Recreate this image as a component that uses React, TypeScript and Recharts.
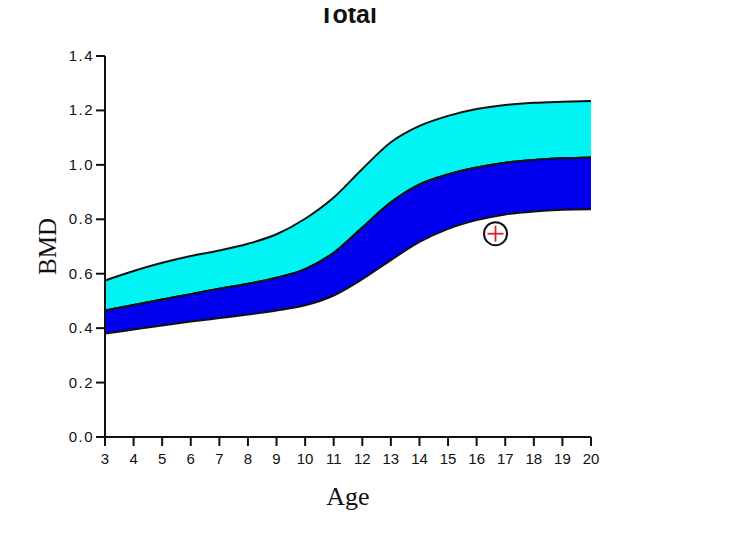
import React from "react";
import { ComposedChart, Area, Scatter, XAxis, YAxis, Label } from "recharts";

const ages = [3, 4, 5, 6, 7, 8, 9, 10, 11, 12, 13, 14, 15, 16, 17, 18, 19, 20];
const upper = [0.575, 0.61, 0.64, 0.665, 0.685, 0.71, 0.745, 0.802, 0.88, 0.985, 1.083, 1.143, 1.18, 1.205, 1.22, 1.228, 1.232, 1.235];
const middle = [0.465, 0.485, 0.505, 0.525, 0.545, 0.563, 0.585, 0.617, 0.677, 0.77, 0.862, 0.928, 0.965, 0.99, 1.008, 1.018, 1.024, 1.027];
const lower = [0.38, 0.395, 0.41, 0.424, 0.437, 0.45, 0.465, 0.484, 0.52, 0.58, 0.65, 0.717, 0.765, 0.797, 0.818, 0.829, 0.835, 0.837];
const yTicks = [0, 0.2, 0.4, 0.6, 0.8, 1.0, 1.2, 1.4];
const patient = [{ age: 16.66, bmd: 0.747 }];

const data = ages.map((a, i) => ({
  age: a,
  cyan: [middle[i], upper[i]],
  blue: [lower[i], middle[i]],
}));

const FONT = "Liberation Sans, Arial, sans-serif";

const XTick = (props: any) => {
  const { x, y, payload } = props;
  return (
    <text x={x} y={y + 12} textAnchor="middle" fontFamily={FONT} fontSize={15} fill="#111">
      {payload.value}
    </text>
  );
};

const YTick = (props: any) => {
  const { x, y, payload } = props;
  return (
    <text x={x} y={y + 5} textAnchor="end" fontFamily={FONT} fontSize={15} letterSpacing={1.5} fill="#111">
      {Number(payload.value).toFixed(1)}
    </text>
  );
};

const Marker = (props: any) => {
  const { cx, cy } = props;
  return (
    <g>
      <circle cx={cx} cy={cy} r={11.5} fill="#fff" stroke="#111" strokeWidth={2} />
      <line x1={cx - 8} y1={cy} x2={cx + 8} y2={cy} stroke="#e0202a" strokeWidth={1.8} />
      <line x1={cx} y1={cy - 8} x2={cx} y2={cy + 8} stroke="#e0202a" strokeWidth={1.8} />
    </g>
  );
};

export default function App() {
  return (
    <div style={{ margin: "-8px 0 0 -8px", width: 750, height: 540, background: "#fff" }}>
      <ComposedChart
        width={750}
        height={540}
        data={data}
        margin={{ top: 56, right: 159, bottom: 43, left: 0 }}
      >
        <text x={348} y={23} textAnchor="middle" fontFamily={FONT} fontWeight="bold" fontSize={25} fill="#111">
          Total
        </text>
        <XAxis
          dataKey="age"
          type="number"
          domain={[3, 20]}
          ticks={ages}
          interval={0}
          height={60}
          tick={<XTick />}
          tickSize={9}
          tickMargin={6}
          axisLine={{ stroke: "#111", strokeWidth: 2 }}
          tickLine={{ stroke: "#111", strokeWidth: 2 }}
        >
          <Label
            content={(p: any) => {
              const vb = p.viewBox;
              return (
                <text x={vb.x + vb.width / 2} y={vb.y + 68} textAnchor="middle" fontFamily="Liberation Serif, Times New Roman, serif" fontSize={26} fill="#111">
                  Age
                </text>
              );
            }}
          />
        </XAxis>
        <XAxis xAxisId="top" orientation="top" type="number" domain={[3, 20]} height={0} tick={false} tickLine={false} axisLine={{ stroke: "#111", strokeWidth: 2 }} />
        <YAxis
          type="number"
          domain={[0, 1.4]}
          ticks={yTicks}
          interval={0}
          width={105}
          tick={<YTick />}
          tickSize={9}
          tickMargin={2}
          axisLine={{ stroke: "#111", strokeWidth: 2 }}
          tickLine={{ stroke: "#111", strokeWidth: 2 }}
        >
          <Label
            content={(p: any) => {
              const vb = p.viewBox;
              const cy = vb.y + vb.height / 2;
              return (
                <text x={47} y={cy} transform={`rotate(-90 47 ${cy})`} textAnchor="middle" dominantBaseline="central" fontFamily="Liberation Serif, Times New Roman, serif" fontSize={25} fill="#111">
                  BMD
                </text>
              );
            }}
          />
        </YAxis>
        <YAxis yAxisId="right" orientation="right" type="number" domain={[0, 1.4]} width={0} tick={false} tickLine={false} axisLine={{ stroke: "#111", strokeWidth: 2 }} />
        <Area type="monotone" dataKey="cyan" fill="#00f4f4" fillOpacity={1} stroke="#111" strokeWidth={2} isAnimationActive={false} dot={false} activeDot={false} />
        <Area type="monotone" dataKey="blue" fill="#0000ee" fillOpacity={1} stroke="#111" strokeWidth={2} isAnimationActive={false} dot={false} activeDot={false} />
        <Scatter data={patient} dataKey="bmd" shape={<Marker />} isAnimationActive={false} />
      </ComposedChart>
    </div>
  );
}
